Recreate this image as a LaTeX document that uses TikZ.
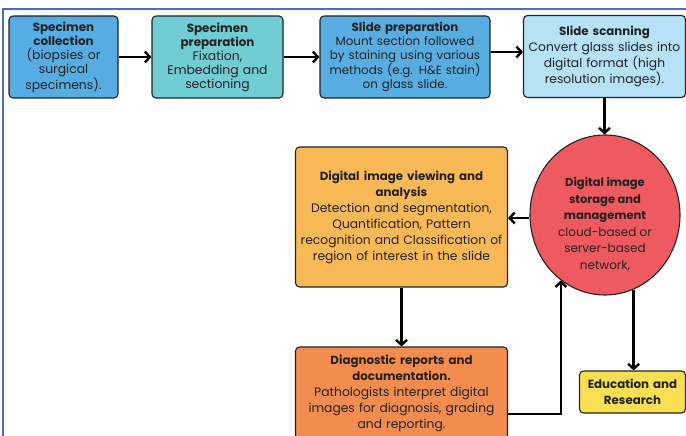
\documentclass[tikz,border=0pt]{standalone}
\usepackage{fontspec}
\setmainfont{Poppins}[BoldFeatures={Scale=0.96}]
\usetikzlibrary{arrows.meta,shapes.geometric}
\definecolor{cBlue}{HTML}{55ADE3}
\definecolor{cTeal}{HTML}{6FCDD3}
\definecolor{cBlueB}{HTML}{58AEE2}
\definecolor{cSky}{HTML}{B5E2F6}
\definecolor{cAmber}{HTML}{F9B957}
\definecolor{cRed}{HTML}{EE5A5F}
\definecolor{cOrange}{HTML}{F28D4F}
\definecolor{cYellow}{HTML}{F8E052}
\definecolor{cInk}{HTML}{222222}
\definecolor{cFrame}{HTML}{4A6FC0}
\tikzset{
  stage/.style={draw=cInk, line width=1.1pt, rounded corners=4pt, align=center,
    inner sep=2pt, text=cInk},
  tighttext/.style={font=\fontsize{12.4}{14}\selectfont},
  looseText/.style={font=\fontsize{12.3}{16}\selectfont},
  flow/.style={line width=2.6pt, draw=black,
    -{Straight Barb[length=5pt,width=11pt,line width=2.4pt]}},
}
\begin{document}
\begin{tikzpicture}[x=1pt,y=-1pt]
\useasboundingbox (0,0) rectangle (686,436);
% page frame
\draw[cFrame, line width=1.3pt] (3,440) -- (3,9) -- (690,9);

% top row
\node[stage, tighttext, fill=cBlue, minimum width=109pt, minimum height=82pt, text width=104pt]
  (b1) at (63.5,57) {\textbf{Specimen}\\\textbf{collection}\\(biopsies or\\surgical\\specimens).};
\node[stage, tighttext, fill=cTeal, minimum width=131pt, minimum height=82pt, text width=126pt]
  (b2) at (217.5,57) {\textbf{Specimen}\\\textbf{preparation}\\Fixation,\\Embedding and\\sectioning};
\node[stage, font=\fontsize{11.9}{14}\selectfont, fill=cBlueB, minimum width=170pt, minimum height=82pt, text width=166pt]
  (b3) at (405,57) {{\fontsize{12.3}{14}\selectfont\textbf{Slide preparation}}\\Mount section followed\\by staining using various\\methods (e.g. H\&E stain)\\on glass slide.};
\node[stage, looseText, fill=cSky, minimum width=161pt, minimum height=82pt, text width=158pt]
  (b4) at (604.5,56.5) {\textbf{Slide scanning}\\Convert glass slides into\\digital format (high\\resolution images).};

% storage hub
\node[ellipse, draw=cInk, line width=1.1pt, fill=cRed, minimum width=150pt, minimum height=160pt,
  inner sep=0pt] (circ) at (605,215) {};
\node[align=center, font=\fontsize{12}{16.5}\selectfont, text=cInk] (circlabel) at (605,224)
  {\textbf{Digital image}\\\textbf{storage and}\\\textbf{management}\\cloud-based or\\server-based\\network,};

% analysis and reporting
\node[stage, looseText, fill=cAmber, minimum width=211pt, minimum height=140pt, text width=208pt]
  (view) at (401.5,217) {\textbf{Digital image viewing and}\\\textbf{analysis}\\Detection and segmentation,\\Quantification, Pattern\\recognition and Classification of\\region of interest in the slide};
\node[stage, looseText, fill=cOrange, minimum width=211pt, minimum height=92pt, text width=208pt]
  (diag) at (401.5,393) {\textbf{Diagnostic reports and}\\\textbf{documentation.}\\Pathologists interpret digital\\images for diagnosis, grading\\and reporting.};
\node[stage, looseText, fill=cYellow, minimum width=105pt, minimum height=42pt, text width=102pt]
  (edu) at (632.5,392) {\textbf{Education and}\\\textbf{Research}};

% connectors
\draw[flow] (b1.east) -- (b2.west);
\draw[flow] (b2.east) -- (b3.west);
\draw[flow] ([yshift=5pt]b3.east) -- ([yshift=5pt]b3.east -| b4.west);
\draw[flow] (b4.south) -- (b4.south |- circ.north);
\draw[flow] ([yshift=-3pt]circ.west) -- ([yshift=-3pt]circ.west -| view.east);
\draw[flow] (view.south) -- (diag.north);
\draw[flow] ([yshift=-21pt]diag.east) -| (circ.236);
\draw[flow] (circ.291) -- (circ.291 |- edu.north);
\end{tikzpicture}
\end{document}
